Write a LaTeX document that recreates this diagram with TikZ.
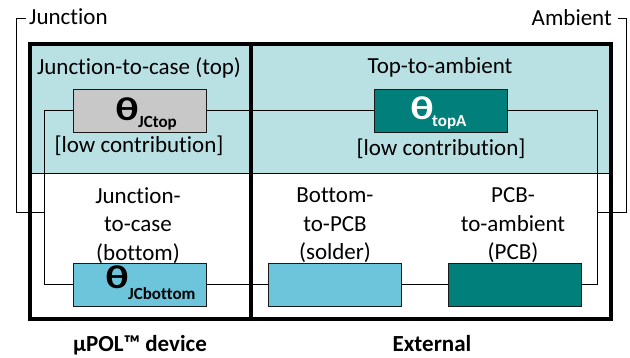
\documentclass[tikz,border=0pt]{standalone}
\usepackage{fontspec}
\setmainfont{Carlito}[Ligatures=NoCommon]
\definecolor{topfill}{HTML}{B9E0E3}
\definecolor{grayfill}{HTML}{C8C8C8}
\definecolor{tealfill}{HTML}{007F7B}
\definecolor{bluefill}{HTML}{6CC5DA}
\begin{document}
\begin{tikzpicture}[x=1pt,y=-1pt,
  lbl/.style={font=\fontsize{23}{28.5}\selectfont, inner sep=0pt, align=center},
  blbl/.style={font=\fontsize{23}{28}\selectfont\bfseries, inner sep=0pt},
  rbox/.style={draw=black!90, line width=1.3pt, minimum width=133pt, minimum height=43pt, inner sep=0pt},
  theta/.style={font=\fontsize{33}{33}\selectfont\bfseries, inner sep=0pt, anchor=base west, xscale=1.3},
  sub/.style={font=\fontsize{17}{17}\selectfont\bfseries, inner sep=0pt, anchor=base west},
  wire/.style={line width=1pt},
  border/.style={line width=4pt}]
\useasboundingbox (0,0) rectangle (630,358);
% top region
\fill[topfill] (29.5,44) rectangle (610.5,173.5);
\draw[line width=1.3pt] (29.5,173.5) -- (610.5,173.5);
% coordinates for wires
\coordinate (lx) at (44,0);
\coordinate (rx) at (597,0);
\coordinate (jl) at (26,19);
\coordinate (lbx) at (16,0);
\coordinate (jjoin) at (44,213);
\coordinate (al) at (618,19);
\coordinate (rbx) at (626,0);
\coordinate (ajoin) at (597,213);
% boxes
\node[rbox, fill=grayfill] (jctop) at (140,111) {};
\node[rbox, fill=tealfill] (topa) at (441,111) {};
\node[rbox, fill=bluefill] (jcbot) at (140,285) {};
\node[rbox, fill=bluefill] (solder) at (335,285) {};
\node[rbox, fill=tealfill] (pcb) at (515,285) {};
% wires
\draw[wire] (jctop.west) -- (jctop.west -| lx) -- (jcbot.west -| lx) -- (jcbot.west);
\draw[wire] (jctop.east) -- (topa.west);
\draw[wire] (topa.east) -- (topa.east -| rx) -- (pcb.east -| rx) -- (pcb.east);
\draw[wire] (jcbot.east) -- (solder.west);
\draw[wire] (solder.east) -- (pcb.west);
% outer frame
\draw[border] (29.5,44) rectangle (610.5,319.5);
\draw[border] (250.5,44) -- (250.5,319.5);
% brackets
\node[font=\fontsize{23}{28}\selectfont, inner sep=0pt, anchor=base west] (junction) at (29,25) {Junction};
\node[font=\fontsize{23}{28}\selectfont, inner sep=0pt, anchor=base east] (ambient) at (612,26) {Ambient};
\draw[wire] (jl) -- (jl -| lbx) -- (lbx |- jjoin) -- (jjoin);
\draw[wire] (al) -- (al -| rbx) -- (rbx |- ajoin) -- (ajoin);
% theta labels
\node[theta] (t1) at (115,121) {θ};
\node[sub] (s1) at (138,128) {JCtop};
\node[theta, text=white] (t2) at (410,120) {θ};
\node[sub, text=white] (s2) at (432,127) {topA};
\node[theta] (t3) at (105,289) {θ};
\node[sub] (s3) at (128,300) {JCbottom};
% region labels
\node[lbl, anchor=base] (l1) at (139,75) {Junction-to-case (top)};
\node[lbl, anchor=base] (l2) at (440,74) {Top-to-ambient};
\node[lbl, anchor=base] (l3) at (139,153) {[low contribution]};
\node[lbl, anchor=base] (l4) at (441,156) {[low contribution]};
\node[lbl] (l5) at (138,225.5) {Junction-\\to-case\\(bottom)};
\node[lbl] (l6) at (335,225.5) {Bottom-\\to-PCB\\(solder)};
\node[lbl] (l7) at (513,225.5) {PCB-\\to-ambient\\(PCB)};
\node[blbl, anchor=base] (d1) at (140,352) {µPOL™ device};
\node[blbl, anchor=base] (d2) at (432,352) {External};
\end{tikzpicture}
\end{document}
